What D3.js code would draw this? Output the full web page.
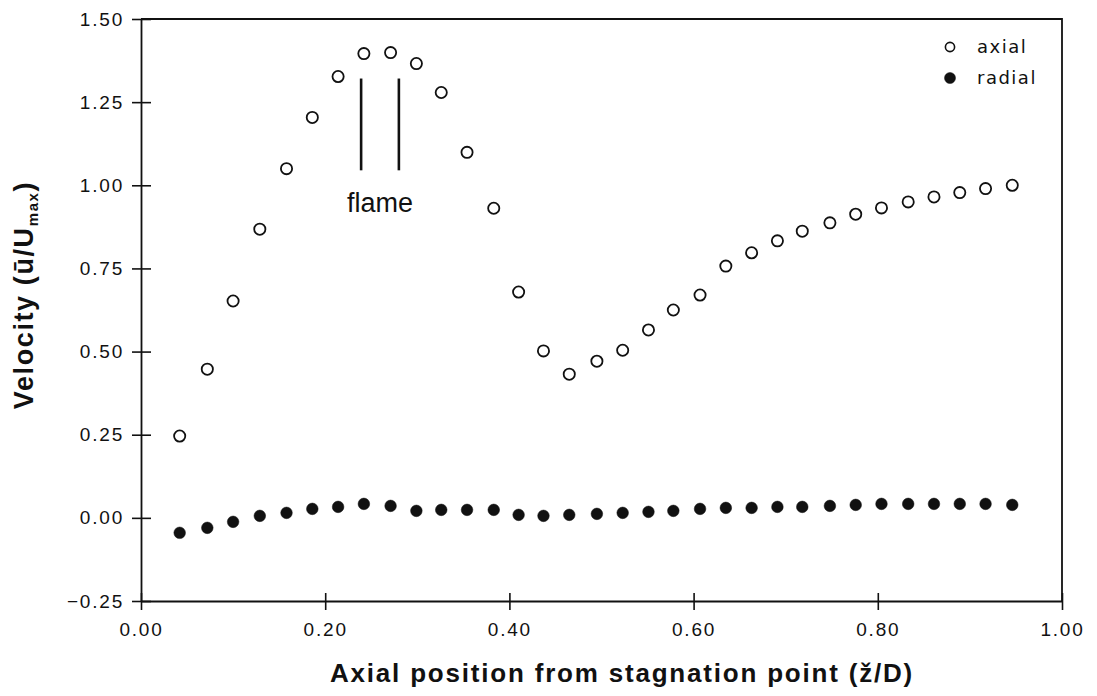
<!DOCTYPE html>
<html>
<head>
<meta charset="utf-8">
<script src="https://cdn.jsdelivr.net/npm/d3@7"></script>
<style>
  body { margin: 0; background: #fff; }
  svg text { fill: #111; }
</style>
</head>
<body>
<svg id="chart" width="1097" height="696"></svg>
<script>
'use strict';

// axial position z/D of each measurement station
var zPos = [0.042, 0.072, 0.100, 0.129, 0.158, 0.186, 0.214, 0.242, 0.271, 0.299, 0.326,
  0.354, 0.383, 0.410, 0.437, 0.465, 0.495, 0.523, 0.551, 0.578, 0.607, 0.635,
  0.663, 0.691, 0.718, 0.748, 0.776, 0.804, 0.833, 0.861, 0.889, 0.917, 0.946];

var axialVel = [0.246, 0.447, 0.652, 0.868, 1.050, 1.204, 1.327, 1.396, 1.399, 1.366, 1.279,
  1.099, 0.931, 0.679, 0.502, 0.432, 0.471, 0.504, 0.565, 0.625, 0.670, 0.757,
  0.797, 0.833, 0.862, 0.887, 0.913, 0.932, 0.950, 0.965, 0.978, 0.990, 1.000];

var radialVel = [-0.045, -0.030, -0.012, 0.006, 0.015, 0.027, 0.033, 0.042, 0.036, 0.021, 0.024,
  0.024, 0.024, 0.009, 0.006, 0.009, 0.012, 0.015, 0.018, 0.021, 0.027, 0.030,
  0.030, 0.033, 0.033, 0.036, 0.039, 0.042, 0.042, 0.042, 0.042, 0.042, 0.039];

var xTicks = [0, 0.2, 0.4, 0.6, 0.8, 1.0];
var yTicks = [-0.25, 0, 0.25, 0.5, 0.75, 1.0, 1.25, 1.5];

// flame marker lines (z/D) and their vertical extent (velocity units)
var flamePos = [0.239, 0.280];
var flameSpan = [1.045, 1.321];

var series = [
  { name: 'axial', values: axialVel, filled: false },
  { name: 'radial', values: radialVel, filled: true }
];

var svg = d3.select('#chart');
var x = d3.scaleLinear().domain([0, 1]).range([141, 1062]);
var y = d3.scaleLinear().domain([-0.25, 1.5]).range([601, 19]);
var fmt = d3.format('.2f');

// frame (top + right)
svg.append('path')
  .attr('d', 'M' + x(0) + ',' + y(1.5) + 'H' + x(1) + 'V' + y(-0.25))
  .attr('fill', 'none')
  .attr('stroke', '#111')
  .attr('stroke-width', 1.8);

var xAxis = svg.append('g')
  .attr('transform', 'translate(0,' + y(-0.25) + ')')
  .call(d3.axisBottom(x).tickValues(xTicks).tickFormat(fmt).tickSize(9).tickSizeOuter(0).tickPadding(13));

var yAxis = svg.append('g')
  .attr('transform', 'translate(' + x(0) + ',0)')
  .call(d3.axisLeft(y).tickValues(yTicks).tickFormat(fmt).tickSize(9).tickSizeOuter(0).tickPadding(10));

[xAxis, yAxis].forEach(function(g) {
  g.select('.domain').attr('stroke', '#111').attr('stroke-width', 1.8);
  g.selectAll('.tick line').attr('stroke', '#111').attr('stroke-width', 1.6);
  g.selectAll('.tick text')
    .attr('font-family', '"Liberation Sans", Arial, sans-serif')
    .attr('font-size', 19)
    .attr('letter-spacing', '1.8px')
    .attr('fill', '#111');
});
// ticks cross the axes
xAxis.selectAll('.tick line').attr('y1', -8);
yAxis.selectAll('.tick line').attr('x1', 10);
yAxis.selectAll('.tick text').attr('dx', '2px');

// flame annotation
svg.selectAll('.flame')
  .data(flamePos)
  .enter().append('line')
  .attr('class', 'flame')
  .attr('x1', function(d) { return x(d); })
  .attr('x2', function(d) { return x(d); })
  .attr('y1', y(flameSpan[1]))
  .attr('y2', y(flameSpan[0]))
  .attr('stroke', '#111')
  .attr('stroke-width', 2.6);

svg.append('text')
  .attr('x', x((flamePos[0] + flamePos[1]) / 2))
  .attr('y', 212)
  .attr('text-anchor', 'middle')
  .attr('font-family', '"Liberation Sans", Arial, sans-serif')
  .attr('font-size', 27)
  .text('flame');

// data points
series.forEach(function(s) {
  svg.append('g').selectAll('circle')
    .data(zPos)
    .enter().append('circle')
    .attr('cx', function(d) { return x(d); })
    .attr('cy', function(d, i) { return y(s.values[i]); })
    .attr('r', s.filled ? 5.8 : 5.6)
    .attr('fill', s.filled ? '#111' : '#fff')
    .attr('stroke', '#111')
    .attr('stroke-width', s.filled ? 0.5 : 1.8);
});

// legend
var legend = svg.append('g').selectAll('g')
  .data(series)
  .enter().append('g')
  .attr('transform', function(d, i) { return 'translate(950,' + (47 + i * 31) + ')'; });

legend.append('circle')
  .attr('r', function(d) { return d.filled ? 5.5 : 4.6; })
  .attr('fill', function(d) { return d.filled ? '#111' : '#fff'; })
  .attr('stroke', '#111')
  .attr('stroke-width', function(d) { return d.filled ? 0.5 : 1.6; });

legend.append('text')
  .attr('x', 27)
  .attr('y', 6)
  .attr('font-family', '"DejaVu Sans", sans-serif')
  .attr('font-size', 18)
  .attr('letter-spacing', '1.5px')
  .text(function(d) { return d.name; });

// axis titles
svg.append('text')
  .attr('x', 622)
  .attr('y', 682)
  .attr('text-anchor', 'middle')
  .attr('font-family', '"Liberation Sans", Arial, sans-serif')
  .attr('font-weight', 'bold')
  .attr('font-size', 26)
  .attr('letter-spacing', '1.8px')
  .text('Axial position from stagnation point (ž/D)');

var yTitle = svg.append('text')
  .attr('transform', 'translate(33,295) rotate(-90)')
  .attr('text-anchor', 'middle')
  .attr('font-family', '"Liberation Sans", Arial, sans-serif')
  .attr('font-weight', 'bold')
  .attr('font-size', 27)
  .attr('letter-spacing', '1.6px');
yTitle.append('tspan').text('Velocity (ū/U');
yTitle.append('tspan').attr('font-size', 15).attr('dy', 5).text('max');
yTitle.append('tspan').attr('dy', -5).text(')');
</script>
</body>
</html>
